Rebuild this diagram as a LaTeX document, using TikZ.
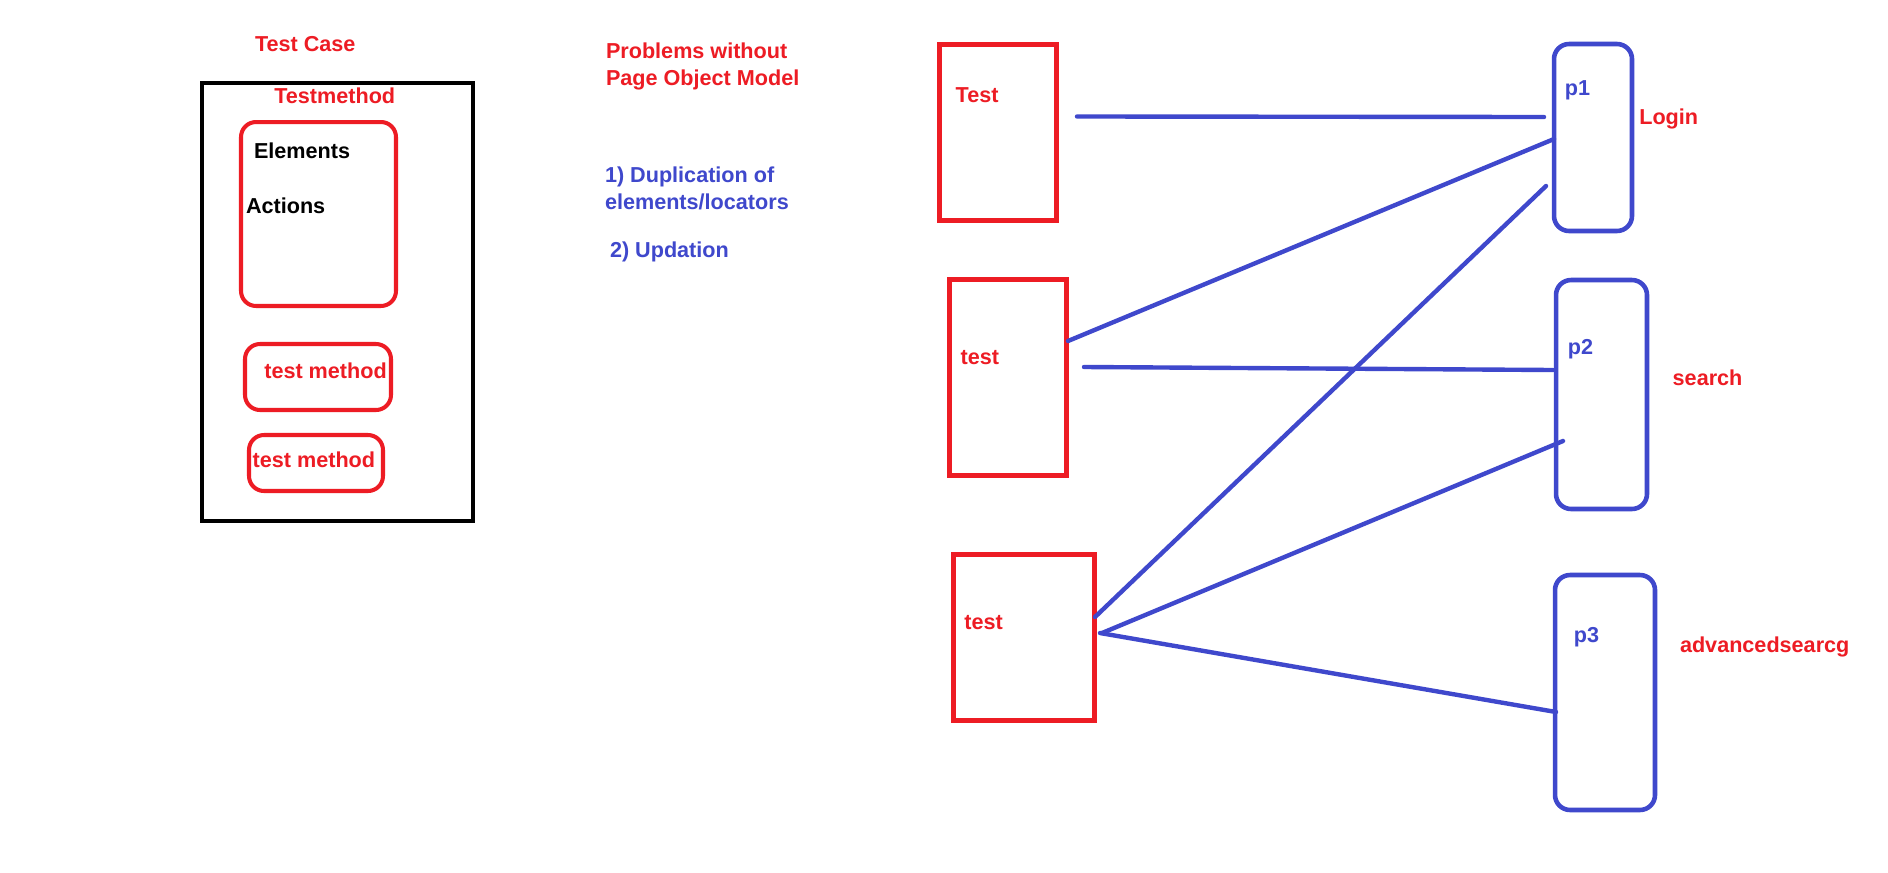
\documentclass[tikz,border=0pt]{standalone}
\usepackage{fontspec}
\setmainfont{Liberation Sans}
\usetikzlibrary{calc}
\definecolor{paintred}{HTML}{ED1C24}
\definecolor{paintblue}{HTML}{3F48CC}

\begin{document}
\begin{tikzpicture}[
    x=0.02cm, y=-0.02cm,
    every node/.style={font=\fontsize{12.3}{15.4}\selectfont\bfseries,
      inner sep=0pt, outer sep=0pt},
    caseframe/.style={rectangle, draw=black, line width=2.6pt},
    methodbox/.style={rectangle, rounded corners=0.3cm, draw=paintred,
      line width=2.3pt},
    testbox/.style={rectangle, draw=paintred, line width=2.85pt},
    pagebox/.style={rectangle, rounded corners=0.3cm, draw=paintblue,
      line width=2.6pt},
    redtxt/.style={text=paintred, anchor=base west},
    bluetxt/.style={text=paintblue, anchor=base west},
    link/.style={draw=paintblue, line width=2.5pt, line cap=round}
  ]
    \fill[white] (0, 0) rectangle (1888, 872);

    % Test case
    \node[redtxt] (casetitle) at (255, 51.7) {Test Case};
    \node[caseframe, minimum width=5.42cm, minimum height=8.76cm]
      (testcase) at (337.5, 302) {};
    \node[redtxt] (methodtitle) at (274.3, 103.3) {Testmethod};
    \node[methodbox, minimum width=3.1cm, minimum height=3.68cm]
      (method1) at (318.5, 214) {};
    \node[anchor=base west] (elements) at (254, 158.3) {Elements};
    \node[anchor=base west] (actions) at (246, 213.3) {Actions};
    \node[methodbox, minimum width=2.92cm, minimum height=1.32cm]
      (method2) at (318, 377) {};
    \node[redtxt] (method2txt) at (264.3, 378.3) {test method};
    \node[methodbox, minimum width=2.68cm, minimum height=1.12cm]
      (method3) at (316, 463) {};
    \node[redtxt] (method3txt) at (252.7, 467.7) {test method};

    % Problemas
    \node[text=paintred, anchor=north west, align=left] (problems)
      at (606, 43) {Problems without\\Page Object Model};
    \node[text=paintblue, anchor=north west, align=left] (dup)
      at (605, 166.7) {1) Duplication of\\elements/locators};
    \node[bluetxt] (updation) at (610, 257) {2) Updation};

    % Tests
    \node[testbox, minimum width=2.34cm, minimum height=3.52cm]
      (test1) at (998, 132.5) {};
    \node[redtxt] (test1txt) at (955.7, 102) {Test};
    \node[testbox, minimum width=2.34cm, minimum height=3.92cm]
      (test2) at (1008, 377.5) {};
    \node[redtxt] (test2txt) at (960.7, 364) {test};
    \node[testbox, minimum width=2.82cm, minimum height=3.32cm]
      (test3) at (1024, 637.5) {};
    \node[redtxt] (test3txt) at (964.3, 629.3) {test};

    % Pages
    \node[pagebox, minimum width=1.56cm, minimum height=3.74cm]
      (p1) at (1593, 137.5) {};
    \node[text=paintblue] (p1txt) at (1577.5, 90.8) {p1};
    \node[redtxt] (login) at (1639.3, 124) {Login};
    \node[pagebox, minimum width=1.82cm, minimum height=4.58cm]
      (p2) at (1601.5, 394.5) {};
    \node[text=paintblue] (p2txt) at (1580.5, 349) {p2};
    \node[redtxt] (search) at (1672.7, 385) {search};
    \node[pagebox, minimum width=2cm, minimum height=4.7cm]
      (p3) at (1605, 692.5) {};
    \node[text=paintblue] (p3txt) at (1586.5, 637) {p3};
    \node[redtxt] (advsearch) at (1680, 652) {advancedsearcg};

    % Relaciones
    \draw[link] ($(test1)+(79,-16)$) -- ($(p1)+(-49,-20.5)$);
    \draw[link] ($(test2)+(60,-36.5)$) -- ($(p1)+(-39,1.5)$);
    \draw[link] ($(test3)+(71,-20.5)$) -- ($(p1)+(-47,48.5)$);
    \draw[link] ($(test2)+(76,-10.5)$) -- ($(p2)+(-48.5,-24.5)$);
    \draw[link] ($(test3)+(78,-4.5)$) -- ($(p2)+(-38.5,46.5)$);
    \draw[link] ($(test3)+(76,-4.5)$) -- ($(p3)+(-49,19.5)$);
  \end{tikzpicture}
\end{document}
